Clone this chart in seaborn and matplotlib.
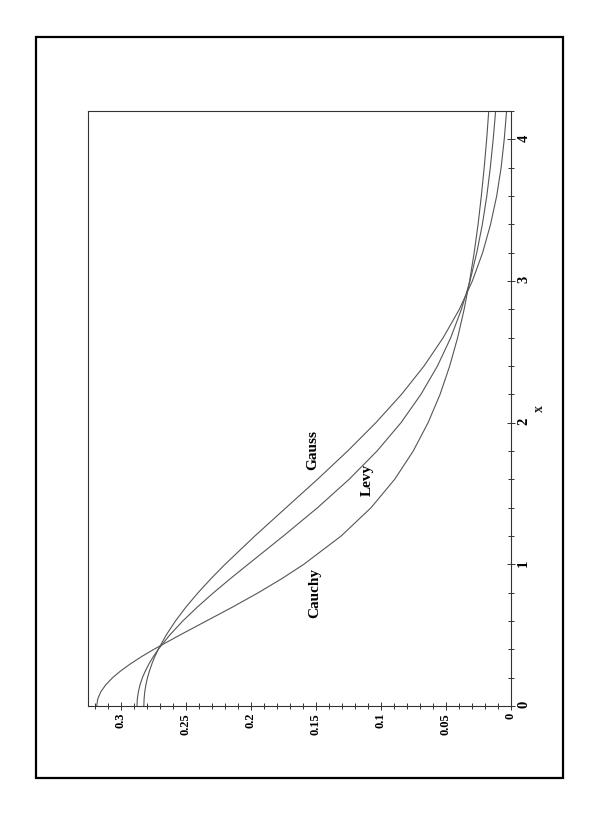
"""
Densities of the Cauchy, Levy (alpha = 1.5) and Gauss laws, drawn rotated
as in the original landscape page.
"""

import matplotlib
matplotlib.use("Agg")
import matplotlib.pyplot as plt
import matplotlib.patches as mpatches
import matplotlib.ticker as mtick
import pandas as pd
import seaborn as sns

X_VALS = [0, 0.05, 0.1, 0.15, 0.2, 0.25, 0.3, 0.35, 0.4, 0.5, 0.6, 0.7,
          0.8, 0.9, 1.0, 1.2, 1.4, 1.6, 1.8, 2.0, 2.2, 2.4, 2.6, 2.8, 3.0,
          3.2, 3.4, 3.6, 3.8, 4.0, 4.2]
CAUCHY = [0.3183, 0.3175, 0.3152, 0.3113, 0.3061, 0.2996, 0.2920, 0.2836,
          0.2744, 0.2546, 0.2341, 0.2136, 0.1941, 0.1759, 0.1592, 0.1305,
          0.1075, 0.0894, 0.0751, 0.0637, 0.0545, 0.0471, 0.0410, 0.0360,
          0.0318, 0.0283, 0.0253, 0.0228, 0.0206, 0.0187, 0.0171]
LEVY = [0.2874, 0.2871, 0.2863, 0.2850, 0.2832, 0.2808, 0.2780, 0.2747,
        0.2710, 0.2623, 0.2522, 0.2408, 0.2285, 0.2155, 0.2020, 0.1749,
        0.1486, 0.1244, 0.1029, 0.0845, 0.0692, 0.0565, 0.0463, 0.0381,
        0.0315, 0.0263, 0.0220, 0.0186, 0.0159, 0.0137, 0.0118]
GAUSS = [0.2821, 0.2819, 0.2814, 0.2805, 0.2793, 0.2777, 0.2758, 0.2736,
         0.2710, 0.2650, 0.2578, 0.2496, 0.2404, 0.2304, 0.2197, 0.1968,
         0.1728, 0.1487, 0.1255, 0.1038, 0.0841, 0.0668, 0.0521, 0.0397,
         0.0297, 0.0218, 0.0157, 0.0110, 0.0076, 0.0052, 0.0034]

X_TICKS = [0, 1, 2, 3, 4]
X_TICK_LABELS = ["0", "1", "2", "3", "4"]
Y_TICKS = [0, 0.05, 0.1, 0.15, 0.2, 0.25, 0.3]
Y_TICK_LABELS = ["0", "0.05", "0.1", "0.15", "0.2", "0.25", "0.3"]

sns.set_theme(style="white")
plt.rcParams["font.family"] = ["Liberation Serif", "DejaVu Serif"]
plt.rcParams["font.weight"] = "bold"

LINE = "#555555"
AXC = "#333333"

df = pd.concat([
    pd.DataFrame({"x": X_VALS, "density": vals, "curve": name})
    for name, vals in [("Cauchy", CAUCHY), ("Levy", LEVY), ("Gauss", GAUSS)]
])

fig = plt.figure(figsize=(5.99, 8.17), dpi=100)
ax = fig.add_axes([88 / 599, 1 - 706 / 817, 423 / 599, 595 / 817])

# page is turned: x runs upwards, density runs to the left
sns.lineplot(data=df, x="density", y="x", hue="curve", orient="y",
             estimator=None, palette={k: LINE for k in ["Cauchy", "Levy", "Gauss"]},
             linewidth=0.8, legend=False, ax=ax)

ax.set_xlim(0.325, 0)
ax.set_ylim(0, 4.2)
ax.set_xlabel("")

ax.yaxis.tick_right()
ax.yaxis.set_label_position("right")
ax.set_ylabel("x", rotation=90, fontsize=10, fontweight="bold")
ax.yaxis.set_label_coords(1.052, 2.10 / 4.2)

ax.set_xticks(Y_TICKS)
ax.set_xticklabels(Y_TICK_LABELS)
ax.set_yticks(X_TICKS)
ax.set_yticklabels(X_TICK_LABELS)
ax.xaxis.set_minor_locator(mtick.MultipleLocator(0.01))
ax.yaxis.set_minor_locator(mtick.MultipleLocator(0.2))

ax.tick_params(axis="x", which="both", direction="inout", bottom=True,
               colors=AXC, labelcolor="black", labelrotation=90,
               labelsize=9, pad=2, width=0.7)
ax.tick_params(axis="y", which="both", direction="inout", right=True,
               left=False, colors=AXC, labelcolor="black", labelrotation=90,
               labelsize=10.5, pad=1.5, width=0.7)
ax.tick_params(which="major", length=6)
ax.tick_params(which="minor", length=5)

for sp in ax.spines.values():
    sp.set_color(AXC)
    sp.set_linewidth(0.8)

for name, dy, dx in [("Gauss", 0.1521, 1.807), ("Levy", 0.1106, 1.595),
                     ("Cauchy", 0.1506, 0.798)]:
    ax.text(dy, dx, name, rotation=90, ha="center", va="center",
            fontsize=11, fontweight="bold", color="black")

fig.patches.append(mpatches.Rectangle(
    (36 / 599, 1 - 778 / 817), 527 / 599, 741 / 817,
    transform=fig.transFigure, fill=False, edgecolor="black", linewidth=1.6))

fig.savefig("out.png", dpi=100, facecolor="white")
